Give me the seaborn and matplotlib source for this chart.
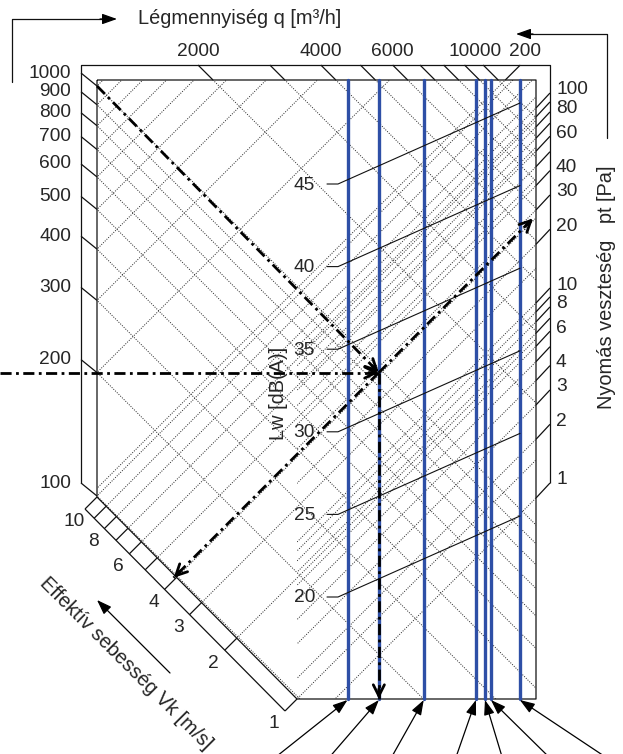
import numpy as np
import pandas as pd
import matplotlib
matplotlib.use("Agg")
import matplotlib.pyplot as plt
import seaborn as sns
from matplotlib.patches import Polygon

# ---------------- data ----------------
left_values = [100, 200, 300, 400, 500, 600, 700, 800, 900, 1000]
airflow_values = [2000, 3000, 4000, 5000, 6000, 7000, 8000, 9000, 10000]
airflow_labels = [2000, 4000, 6000, 10000]
pressure_values = [1, 2, 3, 4, 5, 6, 7, 8, 9, 10, 20, 30, 40, 50, 60, 70, 80, 90, 100]
pressure_labels = [100, 80, 60, 40, 30, 20, 10, 8, 6, 4, 3, 2, 1]
pressure_top_value = 200
velocity_values = [1, 2, 3, 4, 5, 6, 7, 8, 9, 10]
velocity_labels = [10, 8, 6, 4, 3, 2, 1]
lw_values = [45, 40, 35, 30, 25, 20]
model_airflow = [4650, 5550, 7150, 9600, 10100, 10450, 12300]
example_left_start = 1000
example_left_level = 200
example_velocity = 4
example_model = 1

title_top = "Légmennyiség q [m³/h]"
title_right = "Nyomás veszteség   pt [Pa]"
title_lw = "Lw [dB(A)]"
title_v = "Effektív sebesség Vk [m/s]"

# ---------------- layout ----------------
W, H = 623, 754
sns.set_style("white")
plt.rcParams['font.family'] = ['Liberation Sans', 'DejaVu Sans']
FS_NUM = 13.8
FS_TITLE = 14.4

fig = plt.figure(figsize=(W / 100, H / 100), dpi=100)
ax = fig.add_axes([0, 0, 1, 1])

XO_L, XI_L = 81, 97
YO_T, YI_T = 65, 80
XO_R, XI_R = 550, 536
YI_B = 699
P1 = np.array([297.0, 699.0])
P10 = np.array([97.0, 497.0])
V_OFF = np.array([-12.0, 12.0])


def y_left(v):
    return 483 - 410 * np.log10(v / 100)


def x_q(q):
    return 198 + 408 * np.log10(q / 2000)


def y_pa(p):
    return 483 - 195 * np.log10(p)


def v_inner(v):
    return P1 + np.log10(v) * (P10 - P1)


def y_lw(lw):
    return 184 + (45 - lw) * 16.52


K = dict(color='#111111', lw=0.9, solid_capstyle='butt')

# frames
ax.plot([XO_L, XO_L, XO_R, XO_R], [y_left(100), YO_T, YO_T, y_pa(1)], **K)
inner_pts = [(XI_L, YI_T), (XI_R, YI_T), (XI_R, YI_B), tuple(P1), tuple(P10)]
ax.plot([p[0] for p in inner_pts] + [XI_L], [p[1] for p in inner_pts] + [YI_T], **K)
a, b = v_inner(10) + V_OFF, v_inner(1) + V_OFF
ax.plot([a[0], b[0]], [a[1], b[1]], **K)

# ticks
for v in left_values:
    y = y_left(v)
    ax.plot([XO_L, XI_L], [y, y + 13], **K)
    ax.text(71, y, str(v), ha='right', va='center', fontsize=FS_NUM)
for q in airflow_values:
    x = x_q(q)
    ax.plot([x, x + 15], [YO_T, YI_T], **K)
for q in airflow_labels:
    off = -8 if q >= 10000 else 0
    ax.text(x_q(q) + off, 52, str(q), ha='center', va='center', fontsize=FS_NUM)
for p in pressure_values:
    y = y_pa(p)
    ax.plot([XO_R, XI_R], [y, y + 15], **K)
for p in pressure_labels:
    ax.text(556, y_pa(p) - 3, str(p), ha='left', va='center', fontsize=FS_NUM)
c200 = XI_R + y_pa(pressure_top_value) + 15
ax.plot([c200 - YO_T, c200 - YI_T], [YO_T, YI_T], **K)
ax.text(525, 52, str(pressure_top_value), ha='center', va='center', fontsize=FS_NUM)
for v in velocity_values:
    pi = v_inner(v)
    po = pi + V_OFF
    ax.plot([pi[0], po[0]], [pi[1], po[1]], **K)
for v in velocity_labels:
    pl = v_inner(v) + V_OFF + np.array([-11, 13])
    ax.text(pl[0], pl[1], str(v), ha='center', va='center', fontsize=FS_NUM)

# diagonal grid
poly = Polygon(inner_pts, closed=True, facecolor='none', edgecolor='none')
ax.add_patch(poly)
rect = Polygon([(P1[0], YI_T), (XI_R, YI_T), (XI_R, YI_B), (P1[0], YI_B)], closed=True,
               facecolor='none', edgecolor='none')
ax.add_patch(rect)
bs = [XI_L - (y_left(v) + 13) for v in left_values] + [x_q(q) + 15 - YI_T for q in airflow_values]
fs_main = ([XI_L + y_left(v) + 13 for v in left_values]
           + [float(np.sum(v_inner(v))) for v in velocity_values] + [c200])
fs_pa = [XI_R + y_pa(p) + 15 for p in pressure_values]


def dedupe(cs):
    out = []
    for c in sorted(cs):
        if not out or abs(c - out[-1]) > 2.5:
            out.append(c)
    return out


xx = np.array([0.0, W])
G = dict(color='#222222', lw=0.7, linestyle=(0, (1, 1.5)))
for c in dedupe(bs):
    ln, = ax.plot(xx, xx - c, **G)
    ln.set_clip_path(poly)
for c in dedupe(fs_main):
    ln, = ax.plot(xx, c - xx, **G)
    ln.set_clip_path(poly)
for c in fs_pa:
    if min(abs(c - m) for m in fs_main) < 2.5:
        continue
    ln, = ax.plot(xx, c - xx, **G)
    ln.set_clip_path(rect)

# model lines (blue)
rows = []
for i, q in enumerate(model_airflow):
    rows.append(dict(model=i, x=x_q(q), y=YI_T))
    rows.append(dict(model=i, x=x_q(q), y=YI_B))
df = pd.DataFrame(rows)
sns.lineplot(data=df, x='x', y='y', units='model', estimator=None, sort=False,
             color='#2e4fa6', lw=2.4, ax=ax, legend=False)

# Lw leaders
for lw in lw_values:
    y = y_lw(lw)
    ax.plot([327, 338, 520], [y, y, y - 81], color='#111111', lw=0.8)
    ax.text(315, y + 1, str(lw), ha='right', va='center', fontsize=FS_NUM)

# example route (dash-dot)
DD = dict(color='black', lw=2.0, linestyle=(0, (4, 1.6, 1, 1.6)))
AH = dict(arrowstyle='->,head_length=0.8,head_width=0.4', lw=2.0, color='black',
          shrinkA=0, shrinkB=0)
xs = x_q(model_airflow[example_model])
yh = y_left(example_left_level) + 13
y0 = y_left(example_left_start) + 13
cf = xs + yh
pv = v_inner(example_velocity)


def arrowhead(tip, frm):
    tip = np.asarray(tip, float)
    frm = np.asarray(frm, float)
    d = (tip - frm) / np.hypot(*(tip - frm))
    ax.annotate('', xy=tip, xytext=tip - d * 10, arrowprops=AH)


ax.plot([0, xs], [yh, yh], **DD)
arrowhead((xs, yh), (0, yh))
ax.plot([XI_L, xs], [y0, yh], **DD)
arrowhead((xs, yh), (XI_L, y0))
ax.plot([xs, 533], [yh, cf - 533], **DD)
arrowhead((533, cf - 533), (xs, yh))
ax.plot([xs, pv[0] - 3], [yh, cf - pv[0] + 3], **DD)
arrowhead((pv[0] - 3, cf - pv[0] + 3), (xs, yh))
ax.plot([xs, xs], [yh, YI_B], **DD)
arrowhead((xs, YI_B), (xs, yh))

# bottom arrows to models
tail_x = [272, 327, 390, 455, 503, 552, 610]
FA = dict(arrowstyle='-|>,head_length=0.9,head_width=0.32', lw=0.9, color='black',
          shrinkA=0, shrinkB=0)
for q, tx in zip(model_airflow, tail_x):
    ax.annotate('', xy=(x_q(q), YI_B + 1), xytext=(tx, 760), arrowprops=FA)

# title arrows
ax.plot([12, 12, 108], [82, 19, 19], color='#111111', lw=0.9)
ax.annotate('', xy=(117, 19), xytext=(100, 19), arrowprops=FA)
ax.plot([607, 607, 525], [138, 34, 34], color='#111111', lw=0.9)
ax.annotate('', xy=(516, 34), xytext=(533, 34), arrowprops=FA)
ax.annotate('', xy=(97, 600), xytext=(170, 673), arrowprops=FA)

# titles
ax.text(138, 19, title_top, ha='left', va='center', fontsize=FS_TITLE)
ax.text(607, 287, title_right, ha='center', va='center', rotation=90, fontsize=FS_TITLE)
ax.text(279, 393, title_lw, ha='center', va='center', rotation=90, fontsize=FS_TITLE)
ax.text(126, 663, title_v, ha='center', va='center', rotation=-45, fontsize=FS_TITLE)

ax.set_xlim(0, W)
ax.set_ylim(H, 0)
ax.axis('off')
fig.savefig('out.png', dpi=100)
